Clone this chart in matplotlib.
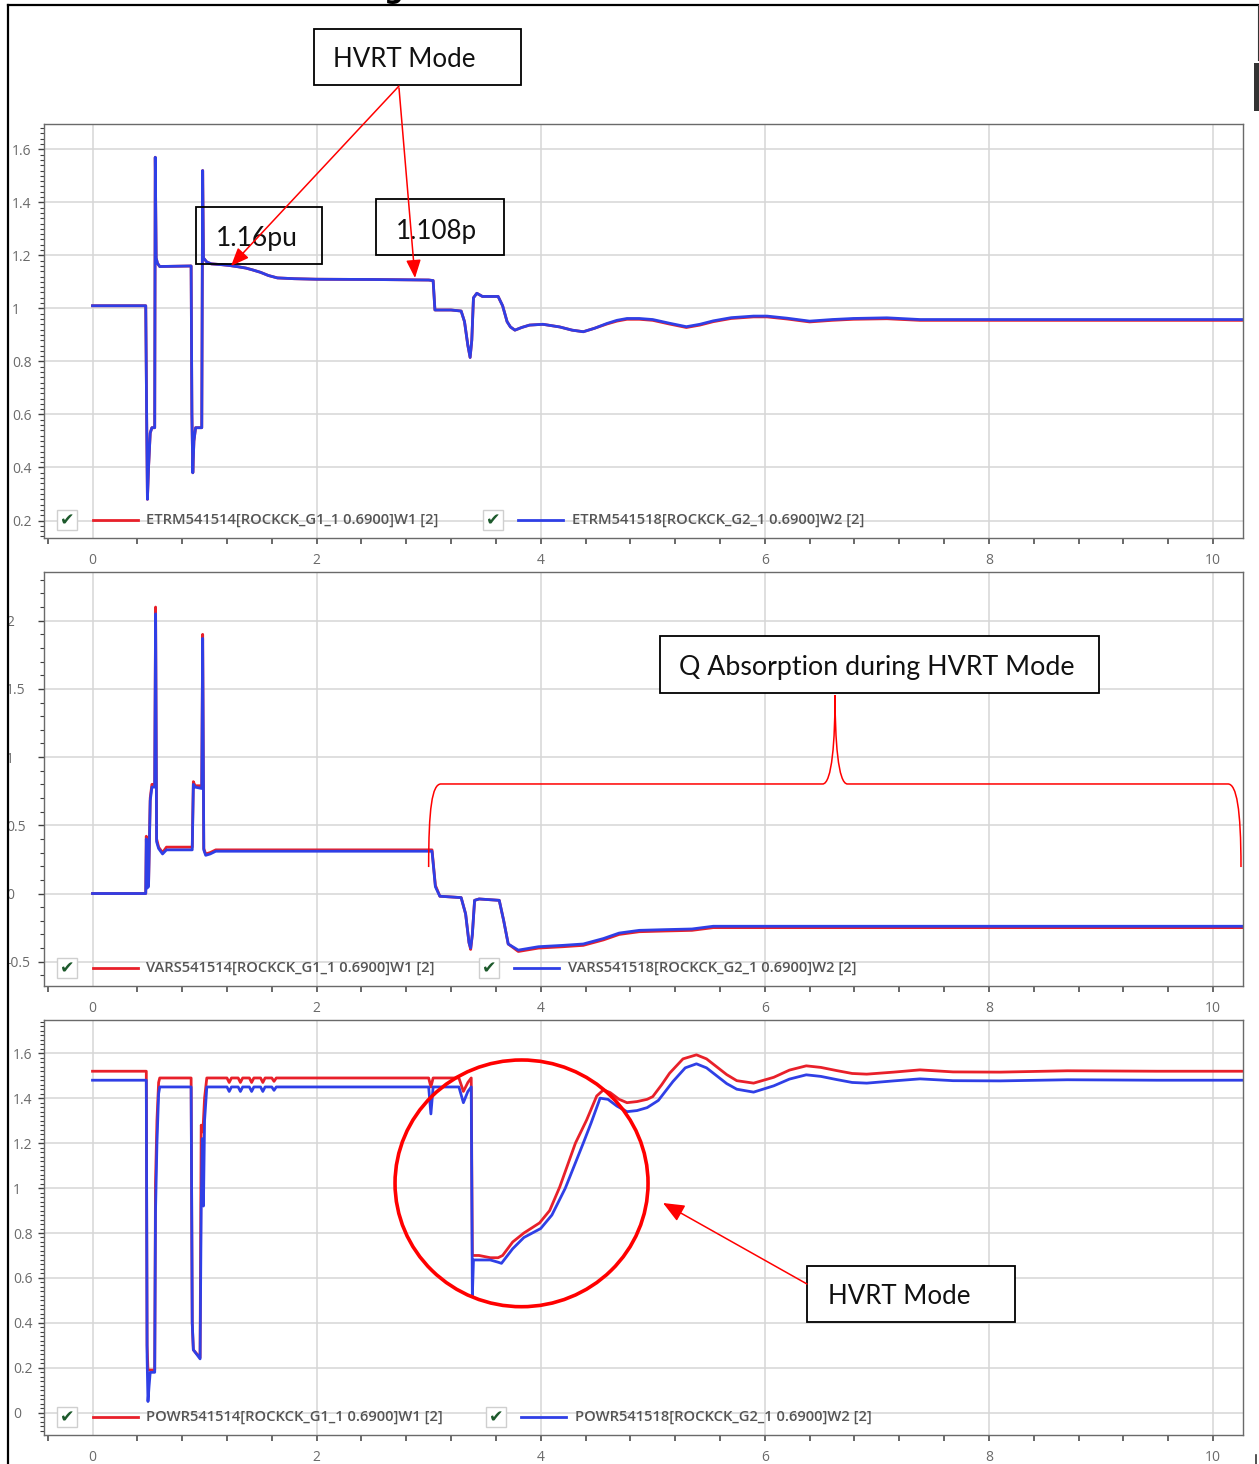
import matplotlib
matplotlib.use("Agg")
import matplotlib.pyplot as plt
from matplotlib.lines import Line2D
from matplotlib.patches import Rectangle, Ellipse, FancyArrowPatch, PathPatch
from matplotlib.path import Path
import numpy as np

# ETRM (terminal voltage, pu): time, G1 (red), G2 (blue)
etrm_rows = [
    (0.0, 1.01, 1.01), (0.475, 1.01, 1.01), (0.483, 0.60, 0.60), (0.49, 0.28, 0.28),
    (0.50, 0.40, 0.40), (0.515, 0.53, 0.53), (0.53, 0.55, 0.55), (0.555, 0.55, 0.55),
    (0.56, 1.57, 1.57), (0.568, 1.19, 1.19), (0.58, 1.17, 1.17), (0.60, 1.158, 1.158),
    (0.88, 1.16, 1.16), (0.887, 0.60, 0.60), (0.895, 0.38, 0.38), (0.905, 0.50, 0.50),
    (0.92, 0.55, 0.55), (0.975, 0.55, 0.55), (0.983, 1.52, 1.52), (0.99, 1.19, 1.19),
    (1.02, 1.175, 1.175), (1.06, 1.168, 1.168), (1.15, 1.165, 1.165), (1.22, 1.162, 1.162),
    (1.30, 1.157, 1.157), (1.37, 1.152, 1.152), (1.43, 1.145, 1.145), (1.50, 1.136, 1.136),
    (1.57, 1.124, 1.124), (1.65, 1.115, 1.115), (1.80, 1.112, 1.112), (2.00, 1.110, 1.110),
    (2.50, 1.109, 1.109), (3.00, 1.107, 1.107), (3.04, 1.105, 1.105), (3.056, 0.994, 0.994),
    (3.20, 0.994, 0.994), (3.29, 0.99, 0.99), (3.32, 0.95, 0.95), (3.35, 0.86, 0.86),
    (3.37, 0.815, 0.815), (3.385, 0.88, 0.88), (3.40, 1.04, 1.04), (3.43, 1.057, 1.057),
    (3.48, 1.045, 1.045), (3.62, 1.045, 1.045), (3.66, 1.01, 1.01), (3.70, 0.95, 0.95),
    (3.73, 0.93, 0.93), (3.77, 0.918, 0.918), (3.83, 0.928, 0.928), (3.90, 0.937, 0.937),
    (4.02, 0.940, 0.940), (4.17, 0.930, 0.930), (4.28, 0.918, 0.918), (4.38, 0.912, 0.912),
    (4.48, 0.925, 0.925), (4.59, 0.941, 0.943), (4.68, 0.952, 0.955), (4.77, 0.959, 0.962),
    (4.88, 0.959, 0.962), (5.00, 0.955, 0.958), (5.15, 0.941, 0.944), (5.30, 0.928, 0.931),
    (5.42, 0.937, 0.940), (5.54, 0.950, 0.953), (5.70, 0.962, 0.965), (5.90, 0.968, 0.971),
    (6.02, 0.968, 0.971), (6.20, 0.960, 0.963), (6.40, 0.949, 0.952), (6.60, 0.955, 0.958),
    (6.79, 0.959, 0.962), (7.09, 0.961, 0.9645), (7.385, 0.955, 0.958), (8.00, 0.955, 0.958),
    (9.00, 0.955, 0.958), (10.27, 0.955, 0.958),
]

# VARS (reactive power): time, G1 (red), G2 (blue)
vars_rows = [
    (0.0, 0.0, 0.0), (0.475, 0.0, 0.0), (0.48, 0.42, 0.40), (0.487, 0.05, 0.04),
    (0.50, 0.06, 0.05), (0.515, 0.70, 0.68), (0.53, 0.80, 0.78), (0.555, 0.80, 0.78),
    (0.563, 2.10, 2.05), (0.572, 0.40, 0.38), (0.59, 0.34, 0.33), (0.625, 0.30, 0.29),
    (0.66, 0.34, 0.32), (0.89, 0.34, 0.32), (0.90, 0.82, 0.80), (0.915, 0.79, 0.78),
    (0.975, 0.79, 0.77), (0.983, 1.90, 1.87), (0.993, 0.33, 0.32), (1.01, 0.29, 0.28),
    (1.05, 0.30, 0.29), (1.10, 0.32, 0.31), (3.03, 0.32, 0.31), (3.06, 0.06, 0.05),
    (3.10, -0.02, -0.02), (3.29, -0.03, -0.03), (3.33, -0.15, -0.15), (3.36, -0.36, -0.36),
    (3.375, -0.41, -0.40), (3.39, -0.30, -0.30), (3.41, -0.05, -0.05), (3.45, -0.04, -0.04),
    (3.63, -0.05, -0.05), (3.67, -0.20, -0.20), (3.71, -0.37, -0.37), (3.80, -0.425, -0.415),
    (3.98, -0.40, -0.39), (4.20, -0.39, -0.38), (4.38, -0.38, -0.37), (4.56, -0.34, -0.33),
    (4.70, -0.30, -0.29), (4.88, -0.28, -0.27), (5.10, -0.275, -0.265), (5.35, -0.27, -0.26),
    (5.54, -0.25, -0.24), (6.00, -0.25, -0.24), (8.00, -0.25, -0.24), (10.27, -0.25, -0.24),
]

# POWR (active power): time, value
powr_red = [
    (0.0, 1.52), (0.48, 1.52), (0.487, 0.30), (0.495, 0.19), (0.555, 0.19), (0.562, 1.02),
    (0.575, 1.30), (0.59, 1.47), (0.60, 1.49), (0.88, 1.49), (0.89, 0.40), (0.90, 0.28),
    (0.96, 0.245), (0.97, 1.28), (0.985, 1.25), (1.0, 1.40), (1.02, 1.49), (1.20, 1.49),
    (1.22, 1.47), (1.24, 1.49), (1.30, 1.49), (1.32, 1.47), (1.34, 1.49), (1.40, 1.49),
    (1.42, 1.47), (1.44, 1.49), (1.50, 1.49), (1.52, 1.47), (1.54, 1.49), (1.60, 1.49),
    (1.62, 1.475), (1.64, 1.49), (3.0, 1.49), (3.02, 1.45), (3.04, 1.49), (3.27, 1.49),
    (3.31, 1.43), (3.35, 1.47), (3.38, 1.49), (3.39, 0.70), (3.45, 0.70), (3.55, 0.69),
    (3.62, 0.69), (3.66, 0.70), (3.75, 0.76), (3.85, 0.80), (3.99, 0.845), (4.08, 0.90),
    (4.17, 1.005), (4.31, 1.20), (4.41, 1.303), (4.50, 1.41), (4.56, 1.437), (4.62, 1.425),
    (4.70, 1.395), (4.77, 1.38), (4.86, 1.385), (4.95, 1.395), (5.00, 1.407), (5.08, 1.46),
    (5.15, 1.511), (5.27, 1.575), (5.39, 1.593), (5.48, 1.575), (5.57, 1.54), (5.66, 1.505),
    (5.75, 1.478), (5.90, 1.467), (6.08, 1.493), (6.22, 1.525), (6.37, 1.544), (6.50, 1.537),
    (6.64, 1.523), (6.78, 1.51), (6.91, 1.507), (7.15, 1.516), (7.385, 1.526), (7.68, 1.517),
    (8.10, 1.516), (8.70, 1.522), (9.50, 1.52), (10.27, 1.52),
]
powr_blue = [
    (0.0, 1.48), (0.48, 1.48), (0.487, 0.25), (0.495, 0.05), (0.505, 0.12), (0.515, 0.18),
    (0.555, 0.18), (0.562, 0.89), (0.575, 1.20), (0.59, 1.42), (0.60, 1.45), (0.88, 1.45),
    (0.89, 0.40), (0.90, 0.28), (0.96, 0.24), (0.97, 0.92), (0.98, 1.22), (0.99, 0.92),
    (1.0, 1.30), (1.02, 1.45), (1.20, 1.45), (1.22, 1.43), (1.24, 1.45), (1.30, 1.45),
    (1.32, 1.43), (1.34, 1.45), (1.40, 1.45), (1.42, 1.43), (1.44, 1.45), (1.50, 1.45),
    (1.52, 1.43), (1.54, 1.45), (1.60, 1.45), (1.62, 1.435), (1.64, 1.45), (3.0, 1.45),
    (3.02, 1.33), (3.04, 1.45), (3.27, 1.45), (3.31, 1.38), (3.35, 1.43), (3.38, 1.45),
    (3.39, 0.52), (3.40, 0.68), (3.55, 0.68), (3.62, 0.67), (3.65, 0.665), (3.75, 0.73),
    (3.85, 0.78), (4.0, 0.82), (4.10, 0.88), (4.22, 1.0), (4.38, 1.20), (4.45, 1.29),
    (4.53, 1.40), (4.60, 1.395), (4.68, 1.365), (4.77, 1.34), (4.86, 1.345), (4.95, 1.358),
    (5.05, 1.39), (5.18, 1.474), (5.29, 1.535), (5.39, 1.553), (5.48, 1.535), (5.57, 1.50),
    (5.66, 1.465), (5.75, 1.44), (5.90, 1.427), (6.08, 1.455), (6.22, 1.485), (6.37, 1.504),
    (6.50, 1.497), (6.64, 1.483), (6.78, 1.47), (6.91, 1.467), (7.15, 1.477), (7.385, 1.486),
    (7.68, 1.478), (8.10, 1.477), (8.70, 1.482), (9.50, 1.48), (10.27, 1.48),
]

legend_labels = [
    ("ETRM541514[ROCKCK_G1_1 0.6900]W1 [2]", "ETRM541518[ROCKCK_G2_1 0.6900]W2 [2]"),
    ("VARS541514[ROCKCK_G1_1 0.6900]W1 [2]", "VARS541518[ROCKCK_G2_1 0.6900]W2 [2]"),
    ("POWR541514[ROCKCK_G1_1 0.6900]W1 [2]", "POWR541518[ROCKCK_G2_1 0.6900]W2 [2]"),
]

RED = "#e8202a"
BLUE = "#2f3fe6"
GRID = "#d6d6d6"
LBL = "#6a6a6a"

W, H = 1259, 1464
fig = plt.figure(figsize=(W / 100, H / 100), dpi=100)
fig.patch.set_facecolor("white")
renderer = fig.canvas.get_renderer()


def fx(x):
    return x / W


def fy(y):
    return 1 - y / H


def fit(txt, width_px):
    bb = txt.get_window_extent(renderer)
    txt.set_fontsize(txt.get_fontsize() * width_px / bb.width)


x_minor = [k * 0.4 for k in range(-1, 26) if k != 0]


def make_panel(top, bottom, ylim, ymajor, ystep, label_left):
    ax = fig.add_axes([fx(44), fy(bottom), fx(1243) - fx(44), fy(top) - fy(bottom)])
    ax.set_xlim(-0.433, 10.268)
    ax.set_ylim(*ylim)
    ax.set_xticks(range(0, 11, 2), labels=[str(v) for v in range(0, 11, 2)])
    ax.set_xticks(x_minor, minor=True)
    ax.xaxis.remove_overlapping_locs = False
    ax.tick_params(axis="x", which="major", length=0, pad=10.5, labelsize=10, labelcolor=LBL)
    ax.tick_params(axis="x", which="minor", length=4, width=1.1, color="#404040")
    ax.set_yticks(ymajor, labels=[f"{v:g}" for v in ymajor])
    lo = np.ceil(ylim[0] / ystep) * ystep
    ax.set_yticks(np.arange(lo, ylim[1], ystep), minor=True)
    ax.tick_params(axis="y", which="major", length=4.3, width=1.0, color="#404040",
                   pad=(44 - label_left - 6) / 1.389, labelsize=10, labelcolor=LBL)
    ax.tick_params(axis="y", which="minor", length=2.6, width=0.8, color="#404040")
    for lab in ax.get_yticklabels():
        lab.set_horizontalalignment("left")
    for lab in ax.get_xticklabels() + ax.get_yticklabels():
        lab.set_fontfamily("Open Sans")
    ax.grid(True, which="major", color=GRID, lw=1.1)
    ax.set_axisbelow(True)
    for s in ax.spines.values():
        s.set_color("#6a6a6a")
        s.set_linewidth(1.0)
    return ax


ax1 = make_panel(124, 538, (0.134, 1.6955), [0.2, 0.4, 0.6, 0.8, 1, 1.2, 1.4, 1.6], 0.02, 12)
ax2 = make_panel(572, 986, (-0.678, 2.357), [-0.5, 0, 0.5, 1, 1.5, 2], 0.1, 6)
ax3 = make_panel(1020, 1435, (-0.099, 1.748), [0, 0.2, 0.4, 0.6, 0.8, 1, 1.2, 1.4, 1.6], 0.02, 13)

line_kw = dict(lw=2, solid_joinstyle="round")

t, r, b = zip(*etrm_rows)
ax1.plot(t, r, color=RED, **line_kw)
ax1.plot(t, b, color=BLUE, **line_kw)

t, r, b = zip(*vars_rows)
ax2.plot(t, r, color=RED, **line_kw)
ax2.plot(t, b, color=BLUE, **line_kw)

t, r = zip(*powr_red)
ax3.plot(t, r, color=RED, **line_kw)
t, b = zip(*powr_blue)
ax3.plot(t, b, color=BLUE, **line_kw)


# legend rows drawn like the PSS/E plot legend (checkbox, line, label)
def legend_row(y, labels, cb2, width):
    entries = [(67, 93, 138, 146, RED, labels[0]),
               (cb2, cb2 + 25, cb2 + 70, cb2 + 79, BLUE, labels[1])]
    for cb, x0, x1, tx, col, lab in entries:
        fig.add_artist(Rectangle((fx(cb - 10), fy(y + 10)), fx(20), 20 / H,
                                 transform=fig.transFigure, fc="white", ec="#cfcfcf", lw=1))
        fig.text(fx(cb), fy(y), "\u2714", color="#1d5a2c", fontsize=12.5,
                 ha="center", va="center", family="DejaVu Sans")
        fig.add_artist(Line2D([fx(x0), fx(x1)], [fy(y), fy(y)], transform=fig.transFigure,
                              color=col, lw=2))
        txt = fig.text(fx(tx), fy(y), lab, color="#555555", fontsize=9, ha="left",
                       va="center", family="Open Sans", weight="semibold")
        fit(txt, width)


legend_row(520, legend_labels[0], 493, 293)
legend_row(968, legend_labels[1], 489, 290)
legend_row(1417, legend_labels[2], 496, 297)


# annotation boxes
def note(x0, y0, x1, y1, text, tx, base, width, filled):
    fig.add_artist(Rectangle((fx(x0), fy(y1)), fx(x1 - x0), (y1 - y0) / H,
                             transform=fig.transFigure, fc="white" if filled else "none",
                             ec="black", lw=1.3, zorder=4))
    txt = fig.text(fx(tx), fy(base), text, ha="left", va="baseline", family="Lato",
                   fontsize=18, color="#111111", zorder=5)
    fit(txt, width)


def arrow(x0, y0, x1, y1, hl, hw):
    fig.add_artist(FancyArrowPatch((fx(x0), fy(y0)), (fx(x1), fy(y1)),
                                   transform=fig.transFigure,
                                   arrowstyle=f"-|>,head_length={hl},head_width={hw}",
                                   mutation_scale=10, color="red", lw=1.1,
                                   shrinkA=0, shrinkB=0, zorder=6))


note(314, 29, 521, 85, "HVRT Mode", 333, 67, 142, True)
note(196, 207, 322, 264, "1.16pu", 216, 246, 82, False)
note(376, 199, 504, 255, "1.108p", 396, 239, 81, False)
arrow(399, 86, 231, 266, 1.1, 0.45)
arrow(399, 88, 415, 278, 1.1, 0.45)

note(660, 636, 1099, 693, "Q Absorption during HVRT Mode", 679, 675, 393, True)
brace = Path(
    [(3.0, 0.194), (3.0, 0.62), (3.03, 0.803), (3.11, 0.803),
     (6.516, 0.803),
     (6.60, 0.803), (6.627, 1.125), (6.627, 1.455),
     (6.627, 1.125), (6.654, 0.803), (6.738, 0.803),
     (10.134, 0.803),
     (10.21, 0.803), (10.25, 0.62), (10.25, 0.194)],
    [Path.MOVETO, Path.CURVE4, Path.CURVE4, Path.CURVE4,
     Path.LINETO,
     Path.CURVE4, Path.CURVE4, Path.CURVE4,
     Path.CURVE4, Path.CURVE4, Path.CURVE4,
     Path.LINETO,
     Path.CURVE4, Path.CURVE4, Path.CURVE4])
ax2.add_patch(PathPatch(brace, fc="none", ec="red", lw=1.1, zorder=5))

ax3.add_patch(Ellipse((3.829, 1.021), 2.258, 1.098, fill=False, ec="red", lw=2.6, zorder=5))
note(807, 1266, 1015, 1322, "HVRT Mode", 828, 1304, 142, True)
arrow(807, 1284, 663, 1203, 1.3, 0.55)

# cropped screenshot edges
fig.text(fx(384), fy(-2), "g", weight="bold", fontsize=20, va="baseline", ha="left")
fig.add_artist(Rectangle((0, 0), fx(7), 1, transform=fig.transFigure, fc="white",
                         ec="none", zorder=20))
fig.add_artist(Line2D([fx(8), fx(8)], [fy(5), 0], transform=fig.transFigure,
                      color="black", lw=1.6, zorder=21))
fig.add_artist(Line2D([fx(8), 1], [fy(5), fy(5)], transform=fig.transFigure,
                      color="black", lw=1.6, zorder=21))
fig.add_artist(Line2D([fx(1257.5), fx(1257.5)], [fy(5), fy(60)], transform=fig.transFigure,
                      color="#333333", lw=0.8, zorder=21))
fig.add_artist(Rectangle((fx(1254), fy(111)), fx(5), 48 / H, transform=fig.transFigure,
                         fc="#333333", ec="none", zorder=21))
fig.add_artist(Line2D([fx(1256), fx(1256)], [fy(1455), 0], transform=fig.transFigure,
                      color="#333333", lw=1.2, zorder=21))

fig.savefig("out.png", dpi=100)
